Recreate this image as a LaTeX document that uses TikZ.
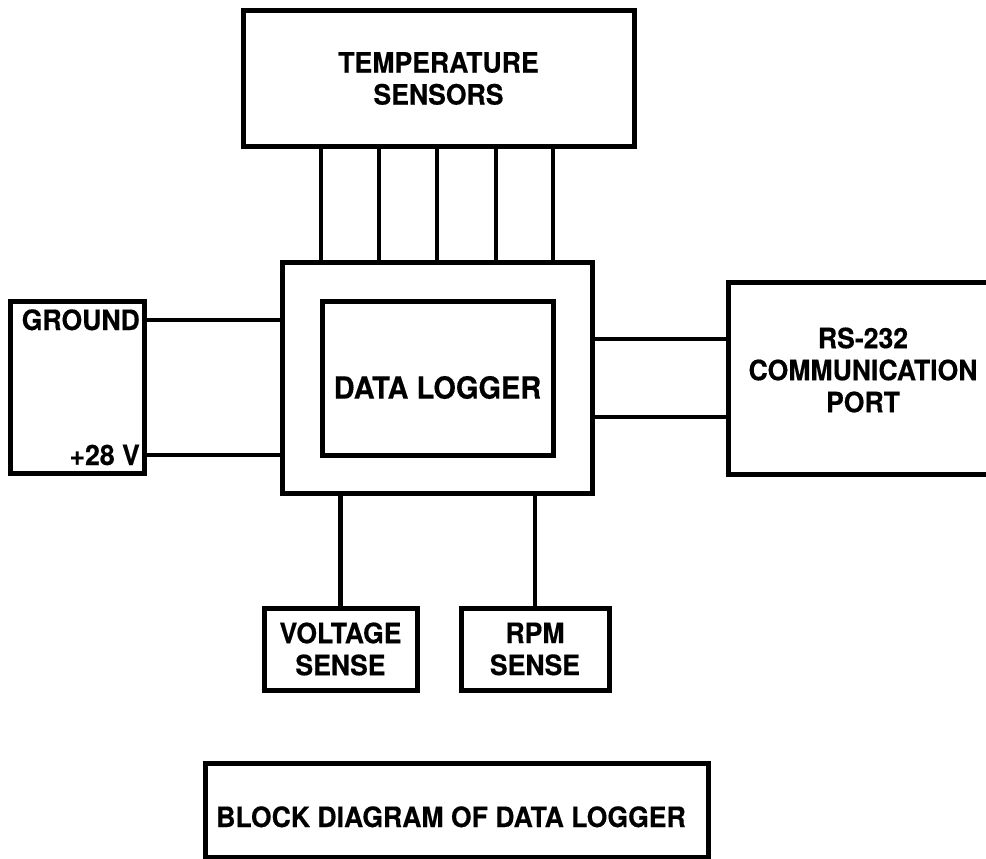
\documentclass[tikz,border=0pt]{standalone}
\usepackage{fontspec}
\setmainfont{TeX Gyre Heros}[FakeStretch=0.95, BoldFeatures={FakeBold=0.4}]
\usepackage{tikz}

\begin{document}
\begin{tikzpicture}[
		x=1pt, y=-1pt,
		block/.style={rectangle, draw, line width=5pt, inner sep=0pt, align=center, font=\bfseries\fontsize{28}{32}\selectfont},
		label/.style={inner sep=0pt, align=center, font=\bfseries\fontsize{28}{32}\selectfont},
		wire/.style={line width=4.5pt}
	]
		\useasboundingbox (0,0) rectangle (986,859);
		\clip (0,0) rectangle (986,859);
		
		% Blocks
		\node[block, minimum width=391pt, minimum height=135pt] (temp) at (438.5,78.5) {TEMPERATURE\\SENSORS};
		\node[block, minimum width=310pt, minimum height=231pt] (dl) at (437,377.5) {};
		\node[block, minimum width=231pt, minimum height=154pt] (core) at (437.5,378) {};
		\node[block, minimum width=134pt, minimum height=172pt] (gnd) at (77,387) {};
		\node[block, minimum width=272pt, minimum height=192pt] (rs) at (864,378) {};
		\node[block, minimum width=153pt, minimum height=82pt] (volt) at (340.5,649) {VOLTAGE\\SENSE};
		\node[block, minimum width=148pt, minimum height=82pt] (rpm) at (535,649) {RPM\\SENSE};
		\node[block, minimum width=503pt, minimum height=94pt] (title) at (456.5,810) {};
		
		% Labels
		\node[label, font=\bfseries\fontsize{30.5}{34}\selectfont] (coretxt) at (437.5,387.5) {DATA LOGGER};
		\node[label] (rstxt) at (863,370) {RS-232\\COMMUNICATION\\PORT};
		\node[label, anchor=base east] (gndtxt) at (140,330) {GROUND};
		\node[label, anchor=base east] (vtxt) at (140,465) {+28 V};
		\node[label, anchor=base] (titletxt) at (451,827) {BLOCK DIAGRAM OF DATA LOGGER};
		
		% Sensor wires
		\foreach \x in {321,379,437,496,553}
			\draw[wire] (temp.south -| \x,0) -- (dl.north -| \x,0);
		
		% Power wires
		\draw[wire] (gnd.east |- gndtxt) -- (dl.west |- gndtxt);
		\draw[wire] (gnd.east |- vtxt) -- (dl.west |- vtxt);
		
		% Port wires
		\draw[wire] (dl.east |- 0,339) -- (rs.west |- 0,339);
		\draw[wire] (dl.east |- 0,417) -- (rs.west |- 0,417);
		
		% Sense wires
		\draw[wire] (dl.south -| volt.north) -- (volt.north);
		\draw[wire] (dl.south -| rpm.north) -- (rpm.north);
	\end{tikzpicture}
\end{document}
